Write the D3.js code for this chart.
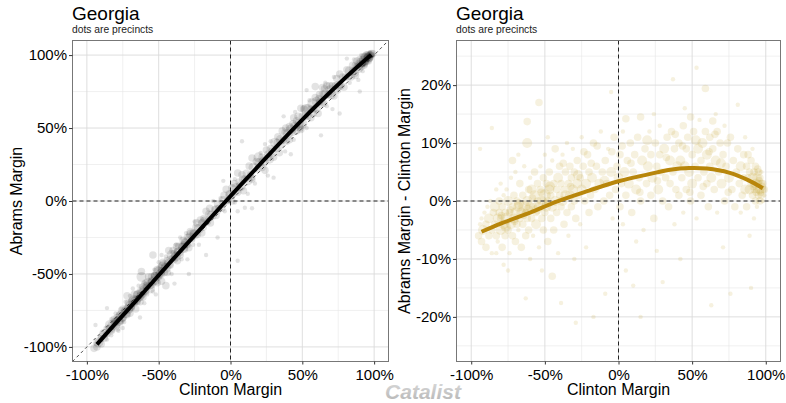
<!DOCTYPE html>
<html>
<head>
<meta charset="utf-8">
<script src="https://cdn.jsdelivr.net/npm/d3@7"></script>
<style>
  body { margin: 0; background: #fff; }
  svg { display: block; font-family: "Liberation Sans", Arial, Helvetica, sans-serif; }
</style>
</head>
<body>
<svg id="drawing_region"></svg>
<script>
// tick positions (as fractions)
const xTicks = [-1, -0.5, 0, 0.5, 1];
const xMinorTicks = [-0.75, -0.25, 0.25, 0.75];
const abramsTicks = [-1, -0.5, 0, 0.5, 1];
const abramsMinorTicks = [-0.75, -0.25, 0.25, 0.75];
const shiftTicks = [-0.2, -0.1, 0, 0.1, 0.2];
const shiftMinorTicks = [-0.25, -0.15, -0.05, 0.05, 0.15, 0.25];

// smoothed trend
const smoothClinton = [-0.93, -0.8, -0.6, -0.42, -0.2, 0, 0.2, 0.35, 0.48, 0.6, 0.75, 0.88, 0.98];
const smoothShift = [-0.053, -0.039, -0.02, -0.001, 0.018, 0.034, 0.046, 0.054, 0.057, 0.056, 0.049, 0.036, 0.022];

// precincts: [Clinton margin %, Abrams - Clinton %, size bucket]
const precincts = [
  [-95,-6,2],[-94,-4,1],[-93,-7,2],[-93,-3,1],[-92,-5,3],[-91,-2,1],[-90,-8,2],[-90,-4,2],[-89,-1,1],
  [-88,-6,2],[-88,-3,3],[-87,0,1],[-86,-5,2],[-86,-9,1],[-85,-2,2],[-94,9,1],[-86,12.6,1],[-83,-9,1],
  [-84,-4,2],[-84,-1,3],[-83,-6,2],[-83,2,1],[-82,-3,3],[-82,-7,1],[-81,-2,2],[-81,0,2],[-80,-5,3],
  [-80,-3,2],[-80,3,1],[-79,-8,2],[-79,-1,2],[-78,-4,3],[-78,1,1],[-77,-2,2],[-77,-6,2],[-76,-3,4],
  [-76,2,1],[-75,-5,2],[-75,0,3],[-74,-9,1],[-74,-2,2],[-73,-4,3],[-73,4,1],[-72,-1,2],[-72,-6,2],
  [-71,-3,3],[-71,1,2],[-70,-7,2],[-70,-2,3],[-70,5,1],[-69,-4,2],[-69,0,2],[-68,-1,3],[-68,-5,1],
  [-67,-3,2],[-67,3,2],[-66,-8,2],[-66,-2,3],[-65,1,2],[-65,-4,2],[-64,-1,4],[-64,6,1],[-63,-6,2],
  [-63,-2,2],[-62,0,3],[-62,-3,2],[-62,13.7,2],[-62,10,3],[-61,2,2],[-61,-5,2],[-60,-1,3],[-60,4,1],
  [-60,-10,1],[-63,-16.8,1],[-78,-11,1],[-72,7,2],[-68,8,1],[-75,-12,1],
  [-79.5,-2.5,2],[-76.5,-4.5,3],[-73.5,-1.5,2],[-70.5,-3.5,2],[-67.5,-0.5,3],[-64.5,-2.5,2],
  [-61.5,-1.5,3],[-58.5,0.5,2],[-55.5,-1.5,3],[-52.5,1.5,2],[-49.5,-0.5,2],[-46.5,2.5,3],
  [-59,-3,2],[-59,2,3],[-58,-1,2],[-58,-6,1],[-57,1,3],[-57,5,2],[-56,-2,2],[-56,-4,3],[-55,0,2],
  [-55,3,2],[-54,17,2],[-54,-8,1],[-54,-1,3],[-53,2,2],[-53,6,1],[-52,-3,2],[-52,0,3],[-51,4,2],
  [-51,-5,2],[-50,1,4],[-50,-2,2],[-50,8,1],[-49,-1,3],[-49,3,2],[-48,-7,2],[-48,0,2],[-47,2,3],
  [-47,5,2],[-46,-3,2],[-46,1,2],[-45,-1,3],[-45,7,1],[-44,3,2],[-44,-5,2],[-43,0,3],[-43,9,2],
  [-42,2,2],[-42,-2,2],[-41,4,3],[-41,-9,1],[-40,1,2],[-40,6,2],[-52,-12,1],[-45,-13,2],[-48,11,1],
  [-39,-1,2],[-39,3,2],[-38,0,3],[-38,8,1],[-37,2,2],[-37,-4,2],[-36,5,2],[-36,1,3],[-35,-2,2],
  [-35,10,1],[-34,3,2],[-34,-6,1],[-33,1,3],[-33,6,2],[-32,-1,2],[-32,4,2],[-31,2,3],[-31,9,1],
  [-30,0,2],[-30,5,2],[-29,-3,2],[-29,-21,1],[-28,3,3],[-28,7,2],[-27,1,2],[-26,-4,1],[-26,4,2],
  [-25,2,3],[-25,11,1],[-24,6,2],[-23,0,2],[-22,3,3],[-21,8,2],[-20,-2,2],[-20,5,2],[-19,1,2],
  [-18,4,3],[-17,-20,1],[-17,10,2],[-16,2,2],[-15,6,2],[-14,-1,2],[-13,3,3],[-12,12,1],[-11,5,2],
  [-10,0,2],[-9,-16,1],[-9,7,2],[-8,3,2],[-7,9,1],[-6,1,2],[-5,18.8,1],[-5,5,3],[-4,-3,1],[-3,11,2],
  [-2,2,2],[-1,6,2],[-39,-17.6,1],[-30,-10,1],[-22,-8,1],
  [-37.5,6.5,2],[-32.5,2.5,2],[-27.5,4.5,3],[-23.5,8.5,2],[-18.5,6.5,2],[-14.5,9.5,2],[-9.5,3.5,3],[-4.5,8.5,2],
  [0,4,3],[1,-1,2],[1,8,2],[2,3,2],[3,12,1],[3,-4,1],[4,5,3],[5,14.2,2],[5,-12,1],[5,1,2],[6,7,2],
  [7,3,3],[8,10,2],[9,-2,2],[10,5,2],[10,-14.6,1],[11,8,2],[12,2,3],[13,11,2],[14,4,2],[15,14.5,2],
  [15,-20,1],[15,0,2],[16,7,3],[17,-5,1],[18,9,2],[19,3,2],[20,6,3],[21,12,1],[22,1,2],[22,8,2],
  [23,4,3],[24,-3,2],[25,10,2],[26,-8.6,1],[26,6,2],[27,2,3],[28,13,1],[28,8,2],[29,5,2],[30,-14,1],
  [30,0,2],[31,9,3],[32,4,2],[33,11,2],[34,-1,2],[35,7,3],[35,3,2],[36,12,2],[37,21,1],[37,5,2],
  [38,9,2],[38,-4,1],[39,2,2],[40,6,3],[24,15,1],[12,-7,1],[8,33,1],[5,-46,1],
  [2.5,9.5,2],[8.5,6.5,2],[14.5,1.5,2],[19.5,10.5,3],[26.5,3.5,2],[32.5,7.5,2],[38.5,11.5,2],
  [41,10,2],[41,1,2],[42,-10,1],[42,7,3],[43,4,2],[44,13,2],[44,-2,1],[45,6,3],[46,9,2],[46,2,2],
  [47,11,2],[48,5,3],[49,14.5,2],[49,0,2],[50,8,2],[50,3,3],[51,12,2],[52,6,2],[53,23,1],[53,-3,1],
  [54,9,3],[54,4,2],[55,14,1],[56,7,2],[56,1,2],[57,10,3],[58,5,2],[59,19.4,2],[59,12,2],[60,3,2],
  [60,8,3],[61,-1,2],[62,11,2],[62,6,2],[63,4,3],[63,-18,1],[64,13.8,2],[64,9,2],[65,2,2],[66,7,3],
  [67,12,2],[67,-2,1],[68,5,2],[69,10,2],[70,3,3],[71,-8,1],[71,8,2],[72,13,1],[72,0,2],[73,6,2],
  [74,10,2],[75,4,3],[76,-16,1],[76,11,2],[77,2,2],[78,7,2],[79,-1,2],[80,5,2],[81,16.6,1],[45,16,1],
  [66,15,1],
  [43.5,9.5,2],[48.5,1.5,2],[52.5,10.5,3],[57.5,2.5,2],[61.5,8.5,2],[65.5,11.5,2],[69.5,6.5,3],[74.5,1.5,2],
  [81,9,2],[82,3,2],[83,6,3],[83,-2,1],[84,1,2],[85,8,2],[85,4,2],[86,11,1],[86,2,3],[87,6,2],
  [87,-1,2],[88,4,2],[88,8,2],[89,2,3],[89,5,2],[90,-15,1],[90,3,2],[90,7,2],[91,1,2],[91,4,3],
  [91,9,1],[92,2,2],[92,5,2],[93,3,3],[93,0,2],[93,6,2],[94,2,2],[94,4,3],[94,-1,1],[95,3,2],
  [95,1,2],[95,5,2],[96,2,3],[96,4,2],[96,0,2],[97,3,2],[97,1,2],[97,5,1],[98,2,2],[98,3,2],
  [98,0,1],[99,1,1],[99,2,2],[92,-3,1],[89,-6,1],
  [93.5,1.5,2],[95.5,3.5,2],[96.5,1.5,2],[97.5,2.5,2],[94.5,5.5,2],[91.5,2.5,2]
];

const pct = d => Math.round(d * 100) + "%";

class marginPanel {

    constructor(config, data, trend) {
        this.config = config;
        this.data = data;
        this.trend = trend;
        this.init();
    }

    init() {
        let self = this;
        let c = self.config;

        self.xscale = d3.scaleLinear().domain([-1.1, 1.1]).range([c.left, c.right]);
        self.yscale = d3.scaleLinear().domain(c.yDomain).range([c.bottom, c.top]);
        self.rscale = d3.scaleSqrt().domain([1, 4]).range([2.2, 6]);

        self.g = c.svg.append('g');

        self.g.append('clipPath').attr('id', c.id + '_clip')
            .append('rect')
            .attr('x', c.left).attr('y', c.top)
            .attr('width', c.right - c.left).attr('height', c.bottom - c.top);
    }

    render() {
        let self = this;
        let c = self.config;
        let g = self.g;

        // grid
        let grid = g.append('g');
        grid.selectAll('.vminor').data(xMinorTicks).join('line')
            .attr('x1', d => self.xscale(d)).attr('x2', d => self.xscale(d))
            .attr('y1', c.top).attr('y2', c.bottom)
            .attr('stroke', '#e6e6e6').attr('stroke-width', 0.6);
        grid.selectAll('.hminor').data(c.yMinor).join('line')
            .attr('y1', d => self.yscale(d)).attr('y2', d => self.yscale(d))
            .attr('x1', c.left).attr('x2', c.right)
            .attr('stroke', '#e6e6e6').attr('stroke-width', 0.6);
        grid.selectAll('.vmajor').data(xTicks).join('line')
            .attr('x1', d => self.xscale(d)).attr('x2', d => self.xscale(d))
            .attr('y1', c.top).attr('y2', c.bottom)
            .attr('stroke', '#dadada').attr('stroke-width', 0.9);
        grid.selectAll('.hmajor').data(c.yTicks).join('line')
            .attr('y1', d => self.yscale(d)).attr('y2', d => self.yscale(d))
            .attr('x1', c.left).attr('x2', c.right)
            .attr('stroke', '#dadada').attr('stroke-width', 0.9);

        let plot = g.append('g').attr('clip-path', `url(#${c.id}_clip)`);

        plot.selectAll('circle').data(self.data)
            .join('circle')
            .attr('cx', d => self.xscale(d[0] / 100))
            .attr('cy', d => self.yscale(c.yValue(d)))
            .attr('r', d => self.rscale(d[2]))
            .attr('fill', c.dotColor)
            .attr('fill-opacity', c.dotOpacity);

        // reference lines
        plot.append('line')
            .attr('x1', self.xscale(0)).attr('x2', self.xscale(0))
            .attr('y1', c.top).attr('y2', c.bottom)
            .attr('stroke', '#222').attr('stroke-dasharray', '4,3');
        plot.append('line')
            .attr('x1', c.left).attr('x2', c.right)
            .attr('y1', self.yscale(0)).attr('y2', self.yscale(0))
            .attr('stroke', '#222').attr('stroke-dasharray', '4,3');
        if (c.diagonal) {
            plot.append('line')
                .attr('x1', self.xscale(-1.1)).attr('y1', self.yscale(-1.1))
                .attr('x2', self.xscale(1.1)).attr('y2', self.yscale(1.1))
                .attr('stroke', '#222').attr('stroke-width', 0.8)
                .attr('stroke-dasharray', '3,3');
        }

        let line = d3.line()
            .x(d => self.xscale(d[0]))
            .y(d => self.yscale(d[1]))
            .curve(d3.curveCatmullRom.alpha(0.5));
        plot.append('path')
            .datum(self.trend)
            .attr('d', line)
            .attr('fill', 'none')
            .attr('stroke', c.lineColor)
            .attr('stroke-width', 4);

        // frame
        g.append('rect')
            .attr('x', c.left).attr('y', c.top)
            .attr('width', c.right - c.left).attr('height', c.bottom - c.top)
            .attr('fill', 'none').attr('stroke', '#777').attr('stroke-width', 1);

        // axes
        let xaxis = g.append('g')
            .attr('transform', `translate(0, ${c.bottom})`)
            .call(d3.axisBottom(self.xscale).tickValues(xTicks).tickFormat(pct).tickSize(3).tickPadding(4.5));
        let yaxis = g.append('g')
            .attr('transform', `translate(${c.left}, 0)`)
            .call(d3.axisLeft(self.yscale).tickValues(c.yTicks).tickFormat(pct).tickSize(3.5).tickPadding(2));
        [xaxis, yaxis].forEach(a => {
            a.select('.domain').remove();
            a.selectAll('line').attr('stroke', '#333');
            a.selectAll('text').attr('font-size', 15).attr('fill', '#000')
                .attr('font-family', '"Liberation Sans", Arial, sans-serif');
        });

        // titles
        g.append('text').attr('x', c.left - 0.5).attr('y', 19.5)
            .attr('font-size', 19).attr('fill', '#000').text(c.title);
        g.append('text').attr('x', c.left - 0.5).attr('y', 33)
            .attr('font-size', 10.3).attr('fill', '#222').text(c.subtitle);
        g.append('text')
            .attr('x', (c.left + c.right) / 2).attr('y', 395)
            .attr('text-anchor', 'middle').attr('font-size', 16).text(c.xLabel);
        g.append('text')
            .attr('transform', `translate(${c.yLabelX}, ${(c.top + c.bottom) / 2}) rotate(-90)`)
            .attr('text-anchor', 'middle').attr('font-size', 16).text(c.yLabel);
    }
}

const svg = d3.select('#drawing_region').attr('width', 786).attr('height', 403);

const shiftTrend = smoothClinton.map((x, i) => [x, smoothShift[i]]);
const abramsTrend = smoothClinton.map((x, i) => [x, x + smoothShift[i]]);

const leftPanel = new marginPanel({
    svg: svg, id: 'left',
    left: 72.5, right: 388.5, top: 40.5, bottom: 361.5,
    yDomain: [-1.1, 1.1], yTicks: abramsTicks, yMinor: abramsMinorTicks,
    yValue: d => (d[0] + d[1]) / 100,
    dotColor: '#000', dotOpacity: 0.11, lineColor: '#000', diagonal: true,
    title: 'Georgia', subtitle: 'dots are precincts',
    xLabel: 'Clinton Margin', yLabel: 'Abrams Margin', yLabelX: 22
}, precincts, abramsTrend);
leftPanel.render();

const rightPanel = new marginPanel({
    svg: svg, id: 'right',
    left: 456.5, right: 780.5, top: 40.5, bottom: 361.5,
    yDomain: [-0.277, 0.277], yTicks: shiftTicks, yMinor: shiftMinorTicks,
    yValue: d => d[1] / 100,
    dotColor: '#b8960b', dotOpacity: 0.13, lineColor: '#b8860b', diagonal: false,
    title: 'Georgia', subtitle: 'dots are precincts',
    xLabel: 'Clinton Margin', yLabel: 'Abrams Margin - Clinton Margin', yLabelX: 410
}, precincts, shiftTrend);
rightPanel.render();

// watermark
let grad = svg.append('defs').append('linearGradient')
    .attr('id', 'wm').attr('x1', 0).attr('y1', 0).attr('x2', 0).attr('y2', 1);
grad.append('stop').attr('offset', '0%').attr('stop-color', '#dcdcdc');
grad.append('stop').attr('offset', '100%').attr('stop-color', '#b4b4b4');
svg.append('text')
    .attr('x', 423).attr('y', 399)
    .attr('text-anchor', 'middle')
    .attr('font-size', 21).attr('font-weight', 'bold').attr('font-style', 'italic')
    .attr('fill', 'url(#wm)')
    .text('Catalist');
</script>
</body>
</html>
